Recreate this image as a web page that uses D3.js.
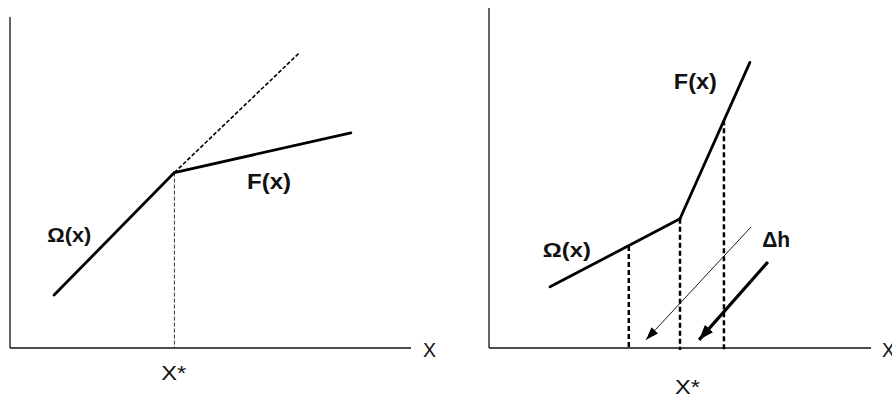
<!DOCTYPE html>
<html>
<head>
<meta charset="utf-8">
<script src="https://cdn.jsdelivr.net/npm/d3@7"></script>
<style>
  body { margin: 0; background: #fff; }
  svg { display: block; font-family: "Liberation Sans", Arial, sans-serif; }
</style>
</head>
<body>
<div id="chart"></div>
<script>
// Left panel: kinked function, flatter after X*
const leftOmega = [{ x: 11, y: 16 }, { x: 41, y: 53 }];
const leftF = [{ x: 41, y: 53 }, { x: 85, y: 65 }];
const leftExtension = [{ x: 41, y: 53 }, { x: 72, y: 89 }];
const leftStar = { x: 41, y: 53 };

// Right panel: kinked function, steeper after X*
const rightOmega = [{ x: 16, y: 18 }, { x: 50, y: 38 }];
const rightF = [{ x: 50, y: 38 }, { x: 68.3, y: 84 }];
const rightDrops = [{ x: 36.6, y: 30 }, { x: 50, y: 38 }, { x: 61.5, y: 67 }];
const thinArrow = [{ x: 68.6, y: 35.6 }, { x: 41.1, y: 2.4 }];
const thickArrow = [{ x: 73, y: 25.3 }, { x: 55, y: 2.4 }];

// Label texts
const axisLabel = "X";
const starLabel = "X*";
const omegaLabel = "Ω(x)";
const fLabel = "F(x)";
const shiftLabel = "Δh";

const width = 892;
const height = 400;

const svg = d3.select("#chart")
  .append("svg")
  .attr("width", width)
  .attr("height", height);

const defs = svg.append("defs");
function marker(id, w, h) {
  defs.append("marker")
    .attr("id", id)
    .attr("viewBox", `0 0 ${w} ${h}`)
    .attr("refX", w)
    .attr("refY", h / 2)
    .attr("markerWidth", w)
    .attr("markerHeight", h)
    .attr("markerUnits", "userSpaceOnUse")
    .attr("orient", "auto")
    .append("path")
    .attr("d", `M0,0L${w},${h / 2}L0,${h}Z`)
    .attr("fill", "#000");
}
marker("head-thin", 13, 9);
marker("head-thick", 15, 11);

function panel(xRange, yRange) {
  const x = d3.scaleLinear().domain([0, 100]).range(xRange);
  const y = d3.scaleLinear().domain([0, 100]).range(yRange);
  const line = d3.line().x(d => x(d.x)).y(d => y(d.y));
  const g = svg.append("g");

  // axes as plain lines (no ticks in the reference)
  g.append("line")
    .attr("x1", x(0)).attr("x2", x(0))
    .attr("y1", y(0)).attr("y2", y(100))
    .attr("stroke", "#111").attr("stroke-width", 1.3);
  g.append("line")
    .attr("x1", x(0)).attr("x2", x(100))
    .attr("y1", y(0)).attr("y2", y(0))
    .attr("stroke", "#111").attr("stroke-width", 1.3);

  return { x, y, line, g };
}

function label(p, text, lx, ly, size, weight, len) {
  const t = p.g.append("text")
    .attr("x", p.x(lx))
    .attr("y", p.y(ly))
    .attr("font-size", size)
    .attr("font-weight", weight)
    .attr("fill", "#111")
    .text(text);
  if (len) t.attr("textLength", len).attr("lengthAdjust", "spacingAndGlyphs");
}

// ---- left panel
const L = panel([10, 411], [348, 17]);

L.g.append("path")
  .attr("d", L.line(leftExtension))
  .attr("fill", "none").attr("stroke", "#000")
  .attr("stroke-width", 1.6).attr("stroke-dasharray", "4,2");

L.g.append("path")
  .attr("d", L.line([leftStar, { x: leftStar.x, y: 0 }]))
  .attr("fill", "none").attr("stroke", "#333")
  .attr("stroke-width", 1).attr("stroke-dasharray", "4,2");

[leftOmega, leftF].forEach(seg => {
  L.g.append("path")
    .attr("d", L.line(seg))
    .attr("fill", "none").attr("stroke", "#000")
    .attr("stroke-width", 2.8).attr("stroke-linecap", "round");
});

label(L, axisLabel, 103, -2.6, 21, "normal", 13);
label(L, starLabel, 37.7, -9.6, 21, "normal", 25);
label(L, omegaLabel, 9.3, 32, 21, "bold", 44);
label(L, fLabel, 59.1, 48, 22, "bold", 44);

// ---- right panel
const R = panel([489, 871], [348, 8]);

rightDrops.forEach(d => {
  R.g.append("path")
    .attr("d", R.line([d, { x: d.x, y: -0.6 }]))
    .attr("fill", "none").attr("stroke", "#000")
    .attr("stroke-width", 2.5).attr("stroke-dasharray", "5,3");
});

[rightOmega, rightF].forEach(seg => {
  R.g.append("path")
    .attr("d", R.line(seg))
    .attr("fill", "none").attr("stroke", "#000")
    .attr("stroke-width", 2.8).attr("stroke-linecap", "round");
});

R.g.append("path")
  .attr("d", R.line(thinArrow))
  .attr("fill", "none").attr("stroke", "#000")
  .attr("stroke-width", 0.9)
  .attr("marker-end", "url(#head-thin)");

R.g.append("path")
  .attr("d", R.line(thickArrow))
  .attr("fill", "none").attr("stroke", "#000")
  .attr("stroke-width", 3.2)
  .attr("marker-end", "url(#head-thick)");

label(R, axisLabel, 102.9, -2.6, 21, "normal", 13);
label(R, starLabel, 48.7, -13.6, 20, "normal", 25);
label(R, omegaLabel, 14.1, 26.8, 21, "bold", 48);
label(R, fLabel, 48.4, 76.2, 22, "bold", 43);
label(R, shiftLabel, 71.5, 29.7, 22, "bold", 28);
</script>
</body>
</html>
